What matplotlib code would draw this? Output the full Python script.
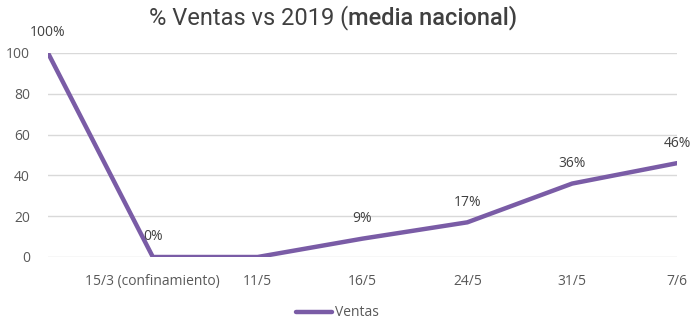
import matplotlib.pyplot as plt

# data
categories = ["", "15/3 (confinamiento)", "11/5", "16/5", "24/5", "31/5", "7/6"]
ventas = [100, 0, 0, 9, 17, 36, 46]
point_labels = ["100%", "0%", "", "9%", "17%", "36%", "46%"]
y_ticks = [0, 20, 40, 60, 80, 100]

purple = "#7A5CA6"
text_grey = "#595959"

fig = plt.figure(figsize=(7, 3.26), dpi=100)
ax = fig.add_axes([48 / 700, 1 - 257 / 326, (677 - 48) / 700, (257 - 53) / 326])

x = list(range(len(categories)))
ax.plot(x, ventas, color=purple, lw=3.2, solid_capstyle="round", label="Ventas", zorder=3)

for xi, v, lab in zip(x, ventas, point_labels):
    if lab:
        ax.annotate(lab, (xi, v), xytext=(0, 9), textcoords="offset points",
                    ha="center", va="bottom", fontsize=10, color="#404040",
                    family="Open Sans")

ax.set_xlim(0, len(categories) - 1)
ax.set_ylim(0, 100)
ax.set_yticks(y_ticks)
ax.set_xticks(x)
ax.set_xticklabels(categories)
ax.grid(axis="y", color="#d9d9d9", lw=1)
ax.set_axisbelow(True)
for s in ax.spines.values():
    s.set_visible(False)
ax.tick_params(length=0, labelsize=10, colors=text_grey, pad=13)
ax.tick_params(axis="x", pad=12)
for t in ax.get_xticklabels() + ax.get_yticklabels():
    t.set_family("Open Sans")

# title: regular part + bold part, centred as a whole
fig.canvas.draw()
r = fig.canvas.get_renderer()
ty = 1 - 18 / 326
t1 = fig.text(0, ty, "% Ventas vs 2019 (", ha="left", va="center",
              fontsize=17, color="#404040", family="Roboto")
t2 = fig.text(0, ty, "media nacional)", ha="left", va="center",
              fontsize=17, color="#404040", family="Roboto", fontweight="medium")
w1 = t1.get_window_extent(r).width
w2 = t2.get_window_extent(r).width
x0 = 333 - (w1 + w2) / 2
t1.set_x(x0 / fig.bbox.width)
t2.set_x((x0 + w1) / fig.bbox.width)

leg = fig.legend(loc="center", bbox_to_anchor=(337 / 700, 1 - 313 / 326), frameon=False,
                 fontsize=10, handlelength=2.6, handletextpad=0.2)
for t in leg.get_texts():
    t.set_color(text_grey)
    t.set_family("Open Sans")

fig.savefig("out.png", dpi=100)
